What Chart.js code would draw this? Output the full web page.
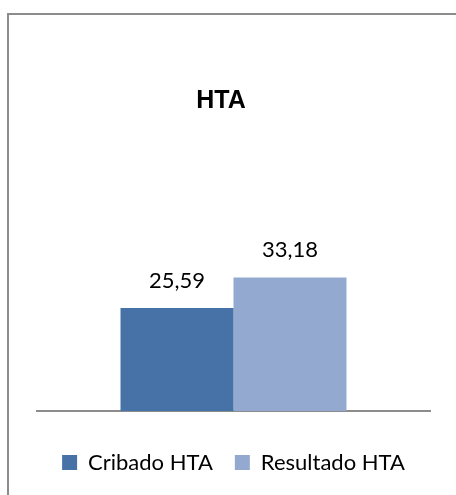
<!DOCTYPE html>
<html>
<head>
<meta charset="utf-8">
<script src="https://cdn.jsdelivr.net/npm/chart.js@4.4.1/dist/chart.umd.min.js"></script>
<style>
  body { margin: 0; background: #fff; }
  #wrap { position: relative; width: 456px; height: 495px; overflow: hidden; }
  #frame { position: absolute; left: 7px; top: 13px; width: 600px; height: 600px;
           border-left: 2px solid #8c8c8c; border-top: 2px solid #8c8c8c; }
  canvas { position: absolute; left: 0; top: 0; }
</style>
</head>
<body>
<div id="wrap">
  <div id="frame"></div>
  <canvas id="htaChart" width="456" height="495"></canvas>
</div>
<script>
// data
const chartTitle = 'HTA';
const categories = [''];
const seriesNames = ['Cribado HTA', 'Resultado HTA'];
const cribadoValues = [25.59];
const resultadoValues = [33.18];
const seriesColors = ['#4672a7', '#93a9cf'];

const labelFont = "Lato, 'Open Sans', sans-serif";

// value labels above bars, comma decimal
const valueLabels = {
    id: 'valueLabels',
    afterDatasetsDraw(chart) {
        const ctx = chart.ctx;
        ctx.save();
        ctx.font = '22px ' + labelFont;
        ctx.fillStyle = '#000';
        ctx.textAlign = 'center';
        ctx.textBaseline = 'alphabetic';
        chart.data.datasets.forEach((ds, i) => {
            chart.getDatasetMeta(i).data.forEach((bar, j) => {
                const txt = ds.data[j].toFixed(2).replace('.', ',');
                ctx.fillText(txt, bar.x, bar.y - 20);
            });
        });
        ctx.restore();
    }
};

// title drawn a bit left of the plot centre, like the original
const titleText = {
    id: 'titleText',
    afterDraw(chart) {
        const ctx = chart.ctx;
        ctx.save();
        ctx.font = "bold 25px 'Liberation Sans', Arial, sans-serif";
        ctx.fillStyle = '#000';
        ctx.textAlign = 'center';
        ctx.textBaseline = 'alphabetic';
        ctx.fillText(chartTitle, 221, 108);
        ctx.restore();
    }
};

const ctx = document.getElementById('htaChart').getContext('2d');
const htaChart = new Chart(ctx, {
    type: 'bar',
    data: {
        labels: categories,
        datasets: [{
            label: seriesNames[0],
            data: cribadoValues,
            backgroundColor: seriesColors[0],
            borderWidth: 0,
            categoryPercentage: 0.575,
            barPercentage: 1
        }, {
            label: seriesNames[1],
            data: resultadoValues,
            backgroundColor: seriesColors[1],
            borderWidth: 0,
            categoryPercentage: 0.575,
            barPercentage: 1
        }]
    },
    options: {
        responsive: false,
        animation: false,
        layout: {
            padding: { top: 250, left: 37, right: 26, bottom: 11.5 }
        },
        scales: {
            x: {
                grid: { display: false, drawTicks: false },
                border: { display: true, color: '#8c8c8c', width: 2 },
                ticks: { display: false },
                afterFit(scale) { scale.height = 18.5; }
            },
            y: {
                display: false,
                min: 0,
                max: 40
            }
        },
        plugins: {
            title: { display: false },
            tooltip: { enabled: false },
            legend: {
                position: 'bottom',
                labels: {
                    boxWidth: 15,
                    boxHeight: 15,
                    padding: 22,
                    color: '#000',
                    font: { family: labelFont, size: 22 }
                }
            }
        }
    },
    plugins: [valueLabels, titleText]
});
</script>
</body>
</html>
